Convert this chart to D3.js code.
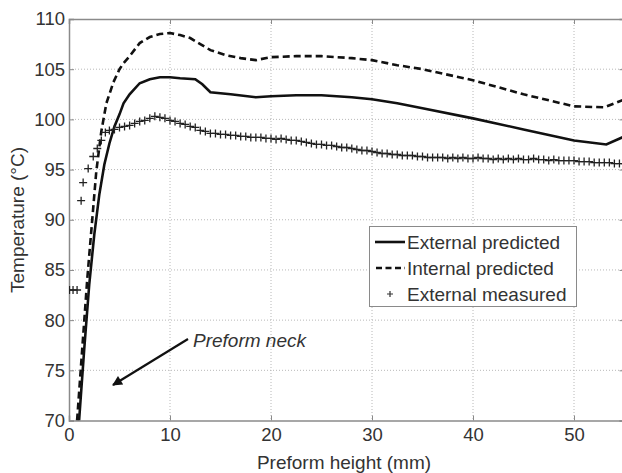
<!DOCTYPE html>
<html><head><meta charset="utf-8">
<script src="https://cdn.jsdelivr.net/npm/d3@7"></script>
<style>body{margin:0;background:#fff}svg{display:block;font-family:"Liberation Sans",Arial,sans-serif}</style>
</head><body><svg id="c" width="622" height="473"></svg>
<script>
const xTicks = [0,10,20,30,40,50];
const yTicks = [70,75,80,85,90,95,100,105,110];
const seriesNames = ["External predicted","Internal predicted","External measured"];

const extPredX = [1.0,1.5,2.0,2.5,3.0,3.5,4.0,4.5,5.0,5.4,6.0,7.0,8.0,9.0,10.0,11.0,12.5,13.2,14.0,16.0,18.5,20.0,22.5,25.0,28.0,30.0,32.5,35.0,40.0,45.0,50.0,53.2,55.0];
const extPredY = [70,77,83.5,88.5,92.5,95.5,97.6,99.3,100.5,101.6,102.5,103.6,104.0,104.2,104.2,104.1,104.0,103.5,102.7,102.5,102.2,102.3,102.4,102.4,102.2,102.0,101.6,101.1,100.1,99.0,97.9,97.5,98.3];

const intPredX = [0.8,1.3,1.8,2.3,2.7,3.2,3.7,4.4,5.0,5.4,6.0,7.0,8.0,9.0,10.0,11.0,12.0,13.0,14.0,15.5,17.0,18.5,20.0,22.5,25.0,28.0,30.0,32.5,35.0,40.0,45.0,50.0,53.0,55.0];
const intPredY = [70,77,84,90,94.8,98.8,101.6,103.7,105.0,105.6,106.3,107.6,108.2,108.5,108.6,108.4,108.1,107.5,106.9,106.4,106.1,105.9,106.2,106.3,106.3,106.1,105.9,105.4,105.0,103.9,102.5,101.3,101.2,102.0];

const measX = [0.05,0.4,0.8,1.2,1.4,1.9,2.4,2.8,3.2,3.6,
4.0,4.5,5.0,5.5,6.0,6.5,7.0,7.5,8.0,8.5,9.0,9.5,10.0,10.5,11.0,11.5,12.0,12.5,13.0,13.5,14.0,14.5,15.0,15.5,16.0,16.5,17.0,17.5,18.0,18.5,19.0,19.5,20.0,20.5,21.0,21.5,22.0,22.5,23.0,23.5,24.0,24.5,25.0,25.5,26.0,26.5,27.0,27.5,28.0,28.5,29.0,29.5,30.0,30.5,31.0,31.5,32.0,32.5,33.0,33.5,34.0,34.5,35.0,35.5,36.0,36.5,37.0,37.5,38.0,38.5,39.0,39.5,40.0,40.5,41.0,41.5,42.0,42.5,43.0,43.5,44.0,44.5,45.0,45.5,46.0,46.5,47.0,47.5,48.0,48.5,49.0,49.5,50.0,50.5,51.0,51.5,52.0,52.5,53.0,53.5,54.0,54.5,55.0];
const measY = [83.0,83.0,83.0,91.9,93.7,95.1,96.3,97.1,97.9,98.7,
98.9,99.0,99.2,99.3,99.4,99.6,99.8,99.9,100.1,100.3,100.2,100.1,99.9,99.8,99.6,99.5,99.3,99.2,98.9,98.8,98.6,98.6,98.5,98.5,98.4,98.4,98.3,98.3,98.2,98.2,98.2,98.1,98.1,98.0,98.1,98.0,97.9,97.9,97.8,97.7,97.6,97.5,97.5,97.4,97.4,97.3,97.2,97.2,97.1,97.0,96.9,96.9,96.8,96.7,96.6,96.6,96.5,96.5,96.4,96.4,96.4,96.3,96.3,96.2,96.2,96.2,96.2,96.1,96.2,96.1,96.2,96.1,96.1,96.2,96.1,96.1,96.0,96.1,96.0,96.1,96.0,96.1,96.0,96.0,96.1,96.0,96.0,95.9,96.0,95.9,95.9,95.9,95.9,95.8,95.8,95.8,95.7,95.7,95.7,95.7,95.6,95.6,95.6];

const svg = d3.select("#c");
const L = 69, R = 624.5, T = 19, B = 420.5;
const x = d3.scaleLinear().domain([0,55]).range([L,R]);
const y = d3.scaleLinear().domain([70,110]).range([B,T]);
const axisCol = "#8a8a8a", textCol = "#333";
const FS = 19, TFS = 18.5;

// grid
const g = svg.append("g");
g.selectAll(".vg").data(xTicks.filter(d=>d>0)).join("line")
  .attr("x1",d=>x(d)).attr("x2",d=>x(d)).attr("y1",T).attr("y2",B)
  .attr("stroke","#b8b8b8").attr("stroke-width",1).attr("stroke-dasharray","1,2");
g.selectAll(".hg").data(yTicks.filter(d=>d>70&&d<110)).join("line")
  .attr("x1",L).attr("x2",R).attr("y1",d=>y(d)).attr("y2",d=>y(d))
  .attr("stroke","#b8b8b8").attr("stroke-width",1).attr("stroke-dasharray","1,2");

// axes
const ax = svg.append("g").attr("transform",`translate(0,${B})`)
  .call(d3.axisBottom(x).tickValues(xTicks).tickSize(-5).tickPadding(9).tickFormat(d3.format("d")));
const ay = svg.append("g").attr("transform",`translate(${L},0)`)
  .call(d3.axisLeft(y).tickValues(yTicks).tickSize(-5).tickPadding(4).tickFormat(d3.format("d")));
const axT = svg.append("g").attr("transform",`translate(0,${T})`)
  .call(d3.axisTop(x).tickValues(xTicks).tickSize(-5).tickFormat(""));
const ayR = svg.append("g").attr("transform",`translate(${R},0)`)
  .call(d3.axisRight(y).tickValues(yTicks).tickSize(-5).tickFormat(""));
[ax,ay,axT,ayR].forEach(a=>{
  a.select(".domain").attr("stroke",axisCol).attr("stroke-width",1.5);
  a.selectAll(".tick line").attr("stroke",axisCol);
  a.selectAll("text").attr("fill",textCol).attr("font-size",TFS).attr("font-family","Liberation Sans, Arial, sans-serif");
});
ax.selectAll("text").attr("dy","0.6em");

// lines
const line = d3.line().x(d=>x(d[0])).y(d=>y(d[1]));
svg.append("clipPath").attr("id","pc").append("rect").attr("x",L).attr("y",T).attr("width",R-L).attr("height",B-T);
const plot = svg.append("g").attr("clip-path","url(#pc)");
plot.append("path").datum(d3.zip(intPredX,intPredY)).attr("d",line)
  .attr("fill","none").attr("stroke","#111").attr("stroke-width",2.6).attr("stroke-dasharray","7,4");
plot.append("path").datum(d3.zip(extPredX,extPredY)).attr("d",line)
  .attr("fill","none").attr("stroke","#111").attr("stroke-width",2.6);
plot.selectAll(".m").data(d3.zip(measX,measY)).join("path")
  .attr("d","M-4,0H4M0,-4V4")
  .attr("transform",d=>`translate(${x(d[0])},${y(d[1])})`)
  .attr("stroke","#222").attr("stroke-width",1.3).attr("fill","none");

// axis titles
svg.append("text").attr("x",344).attr("y",469).attr("text-anchor","middle")
  .attr("font-size",FS).attr("fill",textCol).text("Preform height (mm)");
svg.append("text").attr("transform","translate(24,220) rotate(-90)").attr("text-anchor","middle")
  .attr("font-size",FS).attr("fill",textCol).text("Temperature (°C)");

// legend
const lg = svg.append("g");
lg.append("rect").attr("x",369.5).attr("y",226.5).attr("width",207).attr("height",80)
  .attr("fill","#fff").attr("stroke","#8a8a8a").attr("stroke-width",1);
const ly = [242,268,294];
lg.append("line").attr("x1",375).attr("x2",405).attr("y1",ly[0]).attr("y2",ly[0]).attr("stroke","#111").attr("stroke-width",2.6);
lg.append("line").attr("x1",376).attr("x2",405).attr("y1",ly[1]).attr("y2",ly[1]).attr("stroke","#111").attr("stroke-width",2.6).attr("stroke-dasharray","6,3.5");
lg.append("path").attr("d","M-3,0H3M0,-3V3").attr("transform",`translate(390,${ly[2]})`).attr("stroke","#333").attr("stroke-width",1.2);
lg.selectAll(".lt").data(seriesNames).join("text")
  .attr("x",407).attr("y",(d,i)=>ly[i]).attr("dy","0.35em")
  .attr("font-size",FS).attr("fill",textCol).text(d=>d);

// annotation
svg.append("defs").append("marker").attr("id","ah").attr("viewBox","0 0 10 10").attr("refX",9).attr("refY",5)
  .attr("markerWidth",5.5).attr("markerHeight",4.5).attr("orient","auto").attr("markerUnits","strokeWidth")
  .append("path").attr("d","M0,0L10,5L0,10z").attr("fill","#111");
svg.append("line").attr("x1",188).attr("y1",339).attr("x2",113).attr("y2",385)
  .attr("stroke","#111").attr("stroke-width",2.2).attr("marker-end","url(#ah)");
svg.append("text").attr("x",193).attr("y",347).attr("font-size",FS).attr("font-style","italic")
  .attr("fill",textCol).text("Preform neck");
</script></body></html>
